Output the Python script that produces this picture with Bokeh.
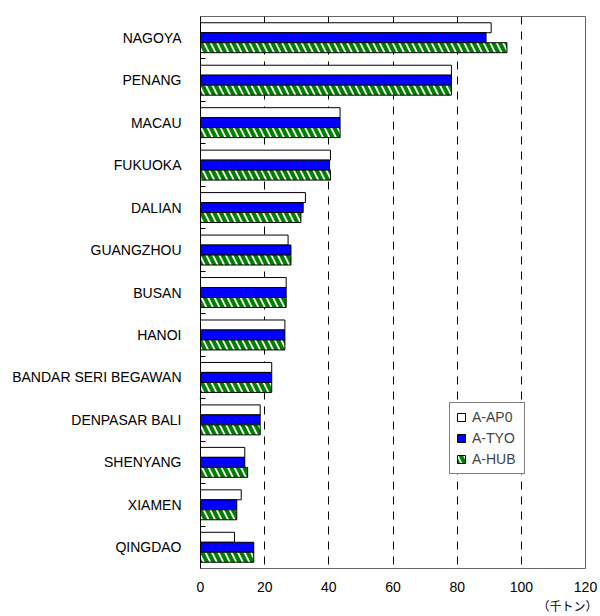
from bokeh.plotting import figure
from bokeh.models import Range1d, FixedTicker, Legend, LegendItem, Title
from bokeh.embed import file_html
from bokeh.resources import INLINE

categories = ["NAGOYA", "PENANG", "MACAU", "FUKUOKA", "DALIAN", "GUANGZHOU", "BUSAN",
              "HANOI", "BANDAR SERI BEGAWAN", "DENPASAR BALI", "SHENYANG", "XIAMEN", "QINGDAO"]
a_ap0 = [90.6, 78.2, 43.5, 40.5, 32.7, 27.3, 26.7, 26.3, 22.2, 18.6, 13.8, 12.7, 10.6]
a_tyo = [89.0, 78.2, 43.5, 40.2, 32.0, 28.2, 26.7, 26.3, 22.2, 18.6, 13.8, 11.3, 16.6]
a_hub = [95.5, 78.2, 43.5, 40.5, 31.3, 28.2, 26.7, 26.3, 22.2, 18.6, 14.7, 11.3, 16.6]
series_names = ["A-AP0", "A-TYO", "A-HUB"]
x_ticks = [0, 20, 40, 60, 80, 100, 120]
unit_label = "（千トン）"

n = len(categories)
centers = [i + 0.5 for i in range(n)]
bh = 0.235

p = figure(width=600, height=616, output_backend="svg", toolbar_location=None,
           x_range=Range1d(0, 120), y_range=Range1d(n, 0),
           min_border_left=200, min_border_right=15, min_border_top=16, min_border_bottom=48)
p.background_fill_color = "white"
p.border_fill_color = "white"
p.outline_line_color = "#666666"
p.outline_line_width = 1

# bars
r1 = p.hbar(y=[c - bh for c in centers], right=a_ap0, left=0, height=bh,
            fill_color="white", line_color="black", line_width=1)
r2 = p.hbar(y=centers, right=a_tyo, left=0, height=bh,
            fill_color="#0000FF", line_color="black", line_width=1)
r3 = p.hbar(y=[c + bh for c in centers], right=a_hub, left=0, height=bh,
            fill_color="white", line_color="black", line_width=1,
            hatch_pattern="left_diagonal_line", hatch_color="#008000",
            hatch_weight=4, hatch_scale=13)

# x axis
p.xaxis.ticker = FixedTicker(ticks=x_ticks)
p.xaxis.major_tick_line_color = None
p.xaxis.minor_tick_line_color = None
p.xaxis.axis_line_color = None
p.xaxis.major_label_text_font = "Liberation Sans"
p.xaxis.major_label_text_font_size = "14px"
p.xaxis.major_label_text_color = "black"
p.xaxis.major_label_standoff = 7

# y axis
p.yaxis.ticker = FixedTicker(ticks=centers, minor_ticks=list(range(1, n)))
p.yaxis.major_label_overrides = {c: name for c, name in zip(centers, categories)}
p.yaxis.major_tick_line_color = None
p.yaxis.minor_tick_in = 5
p.yaxis.minor_tick_out = 0
p.yaxis.minor_tick_line_color = "black"
p.yaxis.axis_line_color = "black"
p.yaxis.major_label_text_font = "Liberation Sans"
p.yaxis.major_label_text_font_size = "14px"
p.yaxis.major_label_text_color = "black"
p.yaxis.major_label_standoff = 13

# grid
p.ygrid.grid_line_color = None
p.xgrid.ticker = FixedTicker(ticks=x_ticks[1:-1])
p.xgrid.grid_line_color = "black"
p.xgrid.grid_line_dash = "8 7"
p.xgrid.grid_line_width = 1

legend = Legend(items=[LegendItem(label=series_names[0], renderers=[r1]),
                       LegendItem(label=series_names[1], renderers=[r2]),
                       LegendItem(label=series_names[2], renderers=[r3])],
                location=(249, 94))
legend.border_line_color = "black"
legend.border_line_width = 1
legend.background_fill_color = "white"
legend.background_fill_alpha = 1
legend.label_text_font = "Liberation Sans"
legend.label_text_font_size = "14px"
legend.glyph_width = 10
legend.glyph_height = 10
legend.label_height = 16
legend.label_width = 46
legend.label_standoff = 6
legend.spacing = 5
legend.padding = 6
legend.margin = 0
p.add_layout(legend)

unit_title = Title(text=unit_label, align="right", offset=-12, standoff=0,
                   text_font="Noto Sans CJK JP", text_font_size="12px",
                   text_font_style="normal", text_color="black")
p.add_layout(unit_title, "below")

open("out.html", "w").write(file_html(p, INLINE))
